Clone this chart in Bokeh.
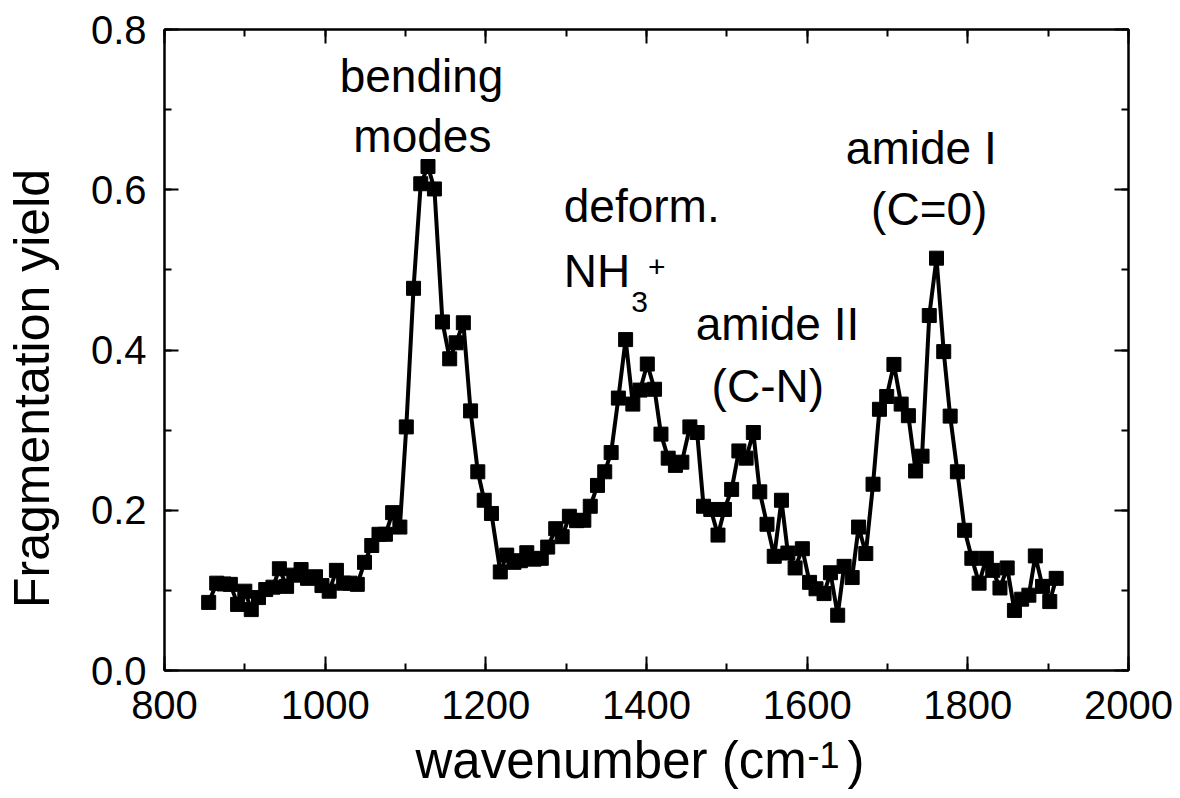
import math
from bokeh.plotting import figure
from bokeh.layouts import row, column
from bokeh.models import LinearAxis, SingleIntervalTicker, NumeralTickFormatter, Label
from bokeh.core.properties import value
from bokeh.embed import file_html
from bokeh.resources import INLINE

# ---- data ----
wavenumber = [855, 865, 874, 882, 891, 900, 908, 917, 926, 935, 943, 952, 961, 970, 978,
              988, 996, 1005, 1014, 1023, 1031, 1040, 1049, 1058, 1067, 1075, 1084, 1093,
              1101, 1110, 1119, 1128, 1136, 1146, 1155, 1163, 1172, 1181, 1190, 1198, 1207,
              1218, 1226, 1235, 1243, 1251, 1260, 1269, 1277, 1287, 1295, 1304, 1313, 1322,
              1330, 1339, 1348, 1356, 1365, 1374, 1383, 1392, 1401, 1410, 1418, 1427, 1436,
              1444, 1454, 1463, 1471, 1480, 1489, 1497, 1506, 1515, 1524, 1533, 1541, 1550,
              1559, 1568, 1576, 1585, 1594, 1603, 1611, 1621, 1629, 1638, 1646, 1656, 1664,
              1673, 1682, 1690, 1699, 1708, 1717, 1726, 1735, 1743, 1752, 1761, 1770, 1778,
              1787, 1796, 1805, 1814, 1823, 1831, 1840, 1849, 1858, 1867, 1876, 1884, 1893,
              1902, 1910]
frag_yield = [0.085, 0.109, 0.108, 0.1075, 0.0825, 0.099, 0.076, 0.091, 0.101, 0.104, 0.127,
              0.105, 0.119, 0.126, 0.115, 0.117, 0.106, 0.099, 0.125, 0.109, 0.109, 0.1075,
              0.135, 0.156, 0.170, 0.170, 0.197, 0.179, 0.304, 0.477, 0.6075, 0.629, 0.601,
              0.435, 0.389, 0.409, 0.434, 0.324, 0.248, 0.2125, 0.196, 0.123, 0.144, 0.135,
              0.137, 0.147, 0.139, 0.140, 0.154, 0.177, 0.167, 0.1925, 0.187, 0.1875, 0.205,
              0.231, 0.248, 0.272, 0.340, 0.413, 0.3325, 0.350, 0.3825, 0.351, 0.295, 0.265,
              0.256, 0.260, 0.304, 0.297, 0.205, 0.201, 0.169, 0.201, 0.226, 0.274, 0.265,
              0.297, 0.223, 0.1825, 0.1425, 0.2125, 0.1466, 0.128, 0.152, 0.110, 0.102, 0.096,
              0.122, 0.069, 0.130, 0.116, 0.179, 0.146, 0.2325, 0.326, 0.342, 0.382, 0.3325,
              0.318, 0.249, 0.2675, 0.443, 0.5146, 0.398, 0.3175, 0.248, 0.175, 0.140, 0.109,
              0.140, 0.125, 0.103, 0.128, 0.075, 0.089, 0.094, 0.143, 0.105, 0.086, 0.115]

x_title = "wavenumber (cm"
x_title_sup = "-1"
x_title_end = ")"
y_title = "Fragmentation yield"

FONT = "Liberation Sans"

# ---------------- main plot ----------------
p = figure(width=1110, height=730, x_range=(800, 2000), y_range=(0, 0.8),
           output_backend="svg", toolbar_location=None,
           min_border_left=94, min_border_right=52, min_border_top=29, min_border_bottom=60)
p.background_fill_color = "white"
p.border_fill_color = "white"
p.outline_line_color = "black"
p.outline_line_width = 2
p.xgrid.visible = False
p.ygrid.visible = False


def style_axis(ax, show_labels=True):
    ax.axis_line_width = 2
    ax.axis_line_color = "black"
    ax.major_tick_in = 14
    ax.major_tick_out = 0
    ax.minor_tick_in = 7
    ax.minor_tick_out = 0
    ax.major_tick_line_width = 2
    ax.minor_tick_line_width = 2
    ax.major_tick_line_color = "black"
    ax.minor_tick_line_color = "black"
    ax.major_label_text_font = FONT
    ax.major_label_text_color = "black"
    if show_labels:
        ax.major_label_text_font_size = "40px"
    else:
        ax.major_label_text_font_size = "1px"
        ax.major_label_text_alpha = 0
        ax.major_label_standoff = 0


xa = p.xaxis[0]
xa.ticker = SingleIntervalTicker(interval=200, num_minor_ticks=2)
style_axis(xa)
xa.major_label_standoff = 20
xa.axis_label = None

ya = p.yaxis[0]
ya.ticker = SingleIntervalTicker(interval=0.2, num_minor_ticks=2)
ya.formatter = NumeralTickFormatter(format="0.0")
style_axis(ya)
ya.major_label_standoff = 18
ya.axis_label = None

top = LinearAxis(ticker=SingleIntervalTicker(interval=200, num_minor_ticks=2))
style_axis(top, show_labels=False)
p.add_layout(top, "above")
right = LinearAxis(ticker=SingleIntervalTicker(interval=0.2, num_minor_ticks=2))
style_axis(right, show_labels=False)
p.add_layout(right, "right")

# curve and markers
p.line(wavenumber, frag_yield, line_color="black", line_width=4)
p.scatter(wavenumber, frag_yield, marker="square", size=14,
          fill_color="black", line_color="black", line_width=1)

# peak annotations
ann = dict(text_font=FONT, text_color="black", text_baseline="alphabetic")
p.add_layout(Label(x=1120, y=0.742, text="bending", text_font_size="46px", text_align="center", **ann))
p.add_layout(Label(x=1121, y=0.667, text="modes", text_font_size="46px", text_align="center", **ann))
p.add_layout(Label(x=1297, y=0.580, text="deform.", text_font_size="46px", text_align="left", **ann))
p.add_layout(Label(x=1297, y=0.498, text="NH", text_font_size="46px", text_align="left", **ann))
p.add_layout(Label(x=1381, y=0.460, text="3", text_font_size="30px", text_align="left", **ann))
p.add_layout(Label(x=1402, y=0.503, text="+", text_font_size="30px", text_align="left", **ann))
p.add_layout(Label(x=1563, y=0.432, text="amide II", text_font_size="46px", text_align="center", **ann))
p.add_layout(Label(x=1551, y=0.355, text="(C-N)", text_font_size="46px", text_align="center", **ann))
p.add_layout(Label(x=1742, y=0.652, text="amide I", text_font_size="46px", text_align="center", **ann))
p.add_layout(Label(x=1752, y=0.576, text="(C=0)", text_font_size="46px", text_align="center", **ann))


def blank(fig):
    fig.axis.visible = False
    fig.xgrid.visible = False
    fig.ygrid.visible = False
    fig.outline_line_color = None
    fig.background_fill_color = "white"
    fig.border_fill_color = "white"


# ---------------- y-axis title panel ----------------
yfig = figure(width=70, height=730, x_range=(0, 70), y_range=(0, 730),
              output_backend="svg", toolbar_location=None, min_border=0)
blank(yfig)
yfig.text(x=[31], y=[342], text=[y_title], angle=math.pi / 2,
          text_font=value(FONT), text_font_size="50px", text_color="black",
          text_align="center", text_baseline="alphabetic")

# ---------------- x-axis title panel (frame aligned with the main plot) ----------------
xfig = figure(width=1110, height=66, x_range=(0, 964), y_range=(0, 66),
              output_backend="svg", toolbar_location=None,
              min_border_left=94, min_border_right=52, min_border_top=0, min_border_bottom=0)
blank(xfig)
xfig.text(x=[251], y=[36], text=[x_title], text_font=value(FONT), text_font_size="51px",
          text_color="black", text_align="left", text_baseline="alphabetic")
xfig.text(x=[643], y=[42], text=[x_title_sup], text_font=value(FONT), text_font_size="36px",
          text_color="black", text_align="left", text_baseline="alphabetic")
xfig.text(x=[683], y=[36], text=[x_title_end], text_font=value(FONT), text_font_size="51px",
          text_color="black", text_align="left", text_baseline="alphabetic")

layout = row(yfig, column(p, xfig))

open("out.html", "w").write(file_html(layout, INLINE))
